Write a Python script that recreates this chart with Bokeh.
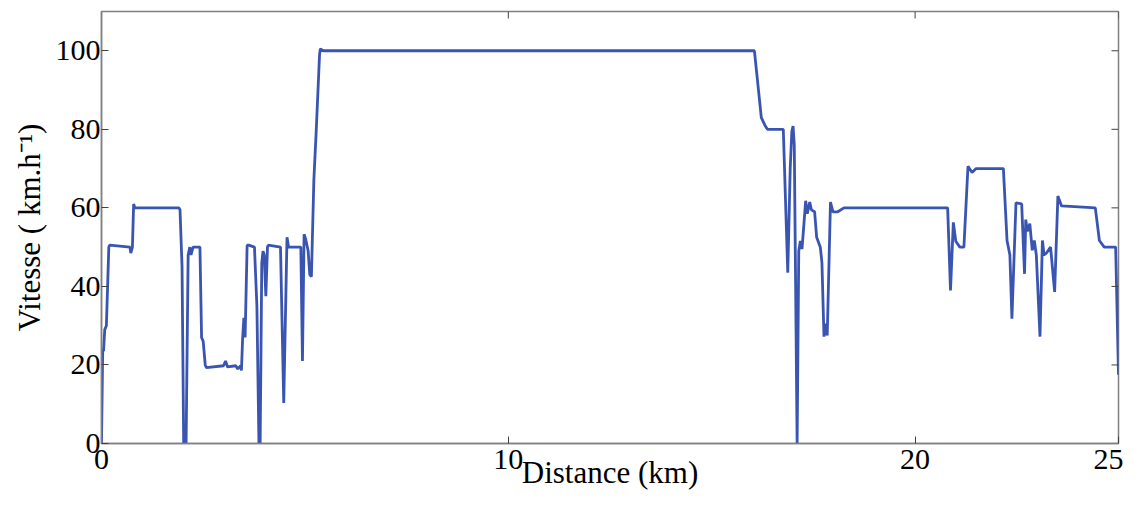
from bokeh.plotting import figure
from bokeh.models import FixedTicker, Range1d
from bokeh.embed import file_html
from bokeh.resources import INLINE

distance_km = [
    0.0, 0.03, 0.05, 0.08, 0.12, 0.18, 0.2, 0.7, 0.72, 0.76, 0.79, 0.82,
    1.9, 1.93, 1.98, 2.02, 2.08, 2.13, 2.17, 2.2, 2.25, 2.42, 2.46, 2.5,
    2.55, 2.58, 3.0, 3.05, 3.1, 3.3, 3.35, 3.42, 3.44, 3.47, 3.5, 3.53,
    3.58, 3.62, 3.76, 3.82, 3.87, 3.9, 3.94, 3.97, 4.0, 4.04, 4.08, 4.1,
    4.4, 4.48, 4.56, 4.6, 4.9, 4.94, 4.98, 5.02, 5.08, 5.12, 5.16, 5.22,
    5.28, 5.36, 5.38, 5.45,
    16.05, 16.22, 16.31, 16.37, 16.76, 16.87, 16.93, 16.97, 17.0, 17.03, 17.1,
    17.14, 17.18, 17.22, 17.31, 17.35, 17.41, 17.45, 17.53, 17.58, 17.67,
    17.71, 17.76, 17.8, 17.84, 17.92, 17.98, 18.1, 18.25,
    20.8, 20.87, 20.94, 21.0, 21.1, 21.2, 21.3, 21.4, 21.5, 22.17, 22.26,
    22.33, 22.38, 22.48, 22.62, 22.69, 22.72, 22.76, 22.82, 22.88, 22.93,
    22.98, 23.07, 23.13, 23.17, 23.23, 23.33, 23.43, 23.51, 23.6, 24.43,
    24.53, 24.65, 24.93, 25.0,
]
vitesse_kmh = [
    0, 24, 23.5, 29, 30, 50, 50.5, 50, 48.5, 50, 61, 60,
    60, 59.5, 45, 0, 0, 48, 50, 48, 50, 50, 27, 26,
    20, 19.3, 19.8, 21, 19.5, 19.8, 19, 19.8, 18.6, 27, 32, 27,
    50.5, 50.5, 50, 35, 0, 0, 46, 49, 48, 37.5, 50, 50.5,
    50, 10.3, 52.5, 50, 50, 21, 53.3, 52, 49, 43, 42.5, 67,
    80, 99, 100.5, 100,
    100, 83, 81, 80, 80, 43.5, 70, 79.5, 80.8, 76, 0,
    49, 51.6, 49.5, 61.8, 58.5, 61.5, 59.5, 59, 52.5, 50,
    46, 27.2, 30.5, 27.5, 61.5, 59, 59, 60,
    60, 39, 56.3, 51.5, 50, 50, 70.6, 69, 70, 70, 51.7,
    48, 31.8, 61.3, 61, 43.2, 57, 54, 56, 49.2, 51.7,
    48, 27.2, 51.7, 48, 48.5, 50, 38.6, 63, 60.5, 60,
    51.7, 50, 50, 17.5,
]
x_ticks = [0, 10, 20, 25]
y_ticks = [0, 20, 40, 60, 80, 100]
x_max = 25
y_max = 110

FONT = "Liberation Serif"
AXIS_COLOR = "#808080"
TICK_COLOR = "#404040"

p = figure(width=1123, height=492, output_backend="svg", toolbar_location=None,
           x_range=Range1d(0, x_max), y_range=Range1d(0, y_max),
           min_border_left=101, min_border_right=5, min_border_top=11,
           min_border_bottom=48)
p.grid.visible = False
p.outline_line_color = AXIS_COLOR
p.outline_line_width = 1.5
p.background_fill_color = "white"
p.border_fill_color = "white"

p.line(distance_km, vitesse_kmh, line_color="#3a55b1", line_width=2.8)

# mirrored inward ticks on the top and right edges of the box
p.ray(x=x_ticks, y=[y_max] * len(x_ticks), length=7, length_units="screen",
      angle=-90, angle_units="deg", line_color=TICK_COLOR, line_width=1)
p.ray(x=[x_max] * len(y_ticks), y=y_ticks, length=7, length_units="screen",
      angle=180, angle_units="deg", line_color=TICK_COLOR, line_width=1)

xa = p.xaxis[0]
ya = p.yaxis[0]
xa.ticker = FixedTicker(ticks=x_ticks)
ya.ticker = FixedTicker(ticks=y_ticks)
for ax in (xa, ya):
    ax.axis_line_color = AXIS_COLOR
    ax.axis_line_width = 1.5
    ax.major_tick_line_color = TICK_COLOR
    ax.major_tick_in = 7
    ax.major_tick_out = 0
    ax.minor_tick_line_color = None
    ax.major_label_text_font = FONT
    ax.major_label_text_color = "black"
    ax.major_label_text_font_size = "30px"
    ax.axis_label_text_font = FONT
    ax.axis_label_text_font_style = "normal"
    ax.axis_label_text_font_size = "31px"
    ax.axis_label_text_color = "black"
xa.major_label_standoff = 6
ya.major_label_standoff = 1
xa.axis_label = "Distance (km)"
ya.axis_label = "Vitesse ( km.h\u207b\u00b9)"
xa.axis_label_standoff = -17
ya.axis_label_standoff = 6

open("out.html", "w").write(file_html(p, INLINE))
